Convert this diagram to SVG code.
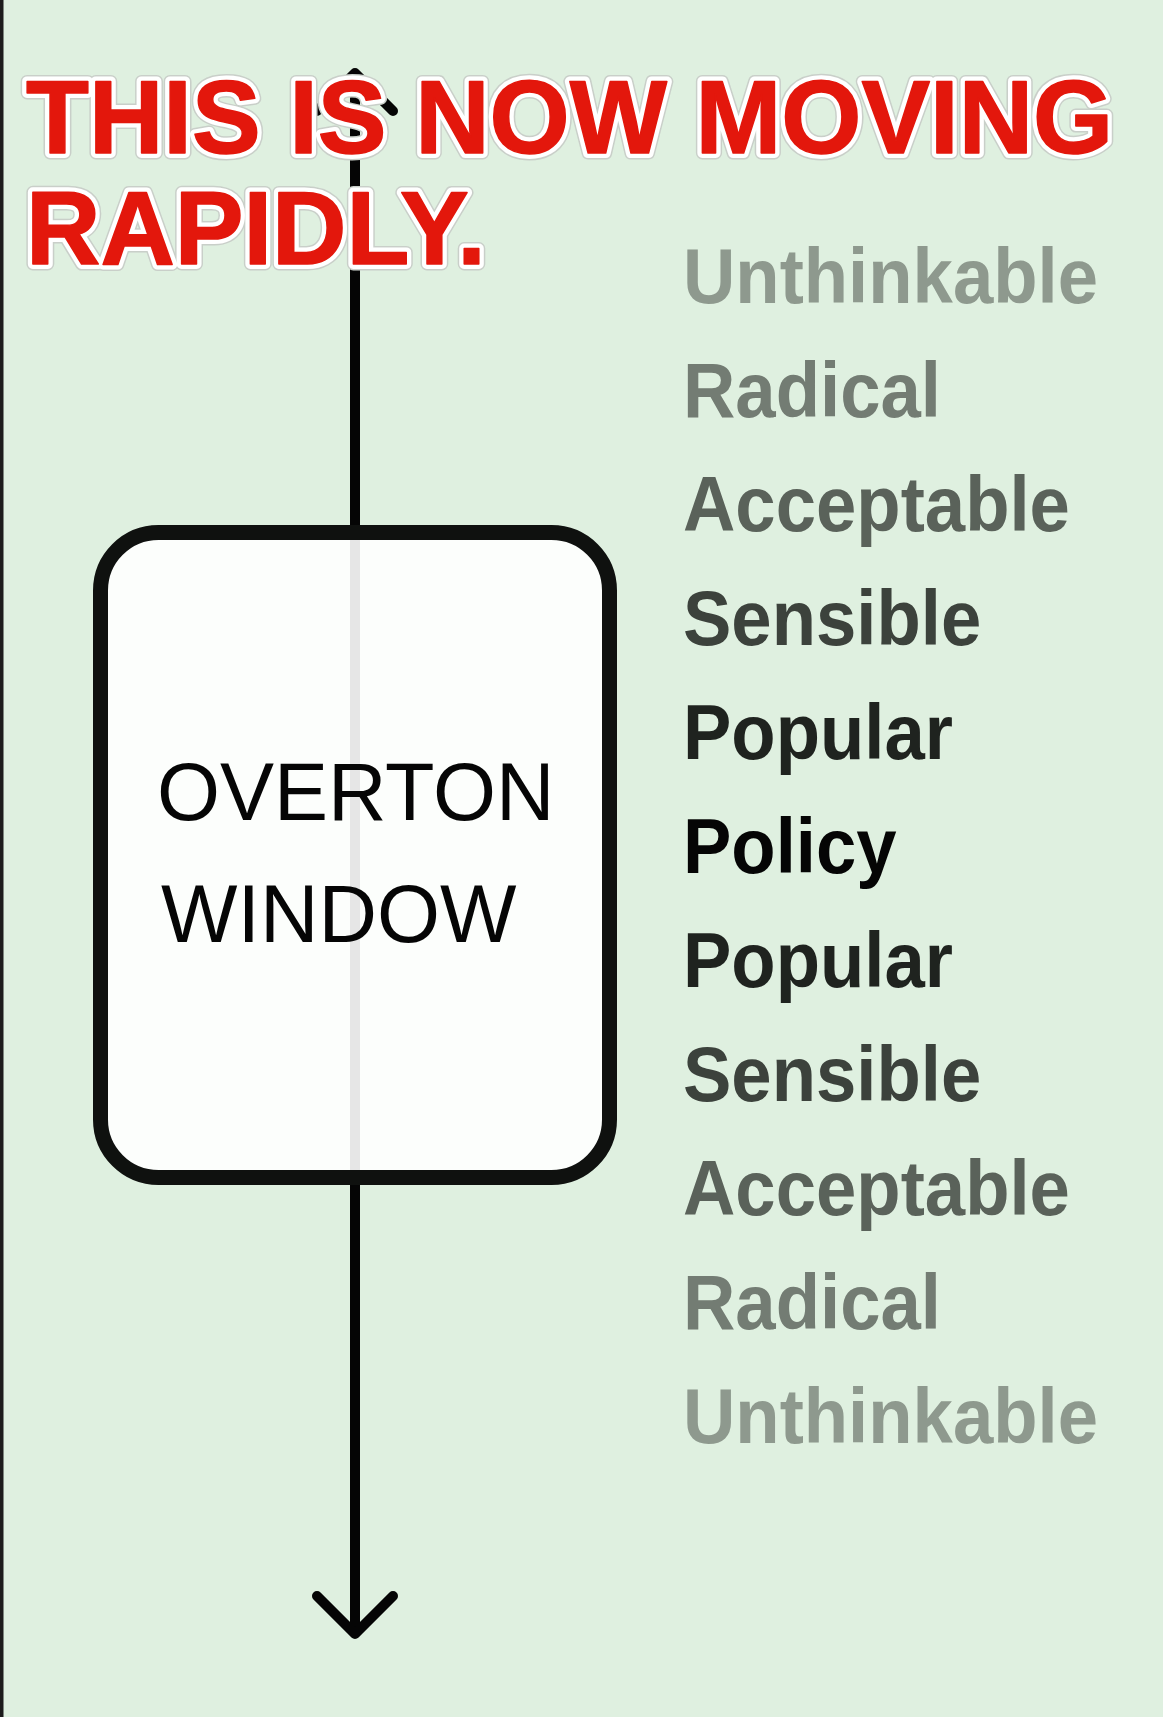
<svg xmlns="http://www.w3.org/2000/svg" width="1163" height="1717" viewBox="0 0 1163 1717">
<defs>
<style>
.lbl{font-family:"Liberation Sans",Arial,sans-serif;font-weight:bold;font-size:78px}
.u{fill:#8e998e}.r{fill:#737c73}.a{fill:#5a625a}.s{fill:#3c423c}.p{fill:#1f231f}.k{fill:#050505}
.box{fill:#ffffff;fill-opacity:0.9;stroke:#0f110f;stroke-width:15}
.boxtxt{font-family:"Liberation Sans",Arial,sans-serif;font-size:81px;fill:#050505}
.t{font-family:"Liberation Sans",Arial,sans-serif;font-weight:bold;font-size:103px;stroke-linejoin:round}
.edge{fill:none;stroke:#c9cfc9;stroke-width:13}
.halo{fill:#ffffff;stroke:#ffffff;stroke-width:10}
.red{fill:#e3170c;stroke:#e3170c;stroke-width:1.5}
.conn{stroke:#050505;stroke-width:10;fill:none}
</style>
<marker id="chev" markerUnits="userSpaceOnUse" viewBox="-50 -50 60 100" refX="0" refY="0" markerWidth="60" markerHeight="100" orient="auto-start-reverse" overflow="visible">
<path d="M -38 -38 L 0 0 L -38 38" fill="none" stroke="#050505" stroke-width="10" stroke-linecap="round" stroke-linejoin="round"/>
</marker>
</defs>
<rect x="0" y="0" width="1163" height="1717" fill="#dff0e0"/>
<rect x="0" y="0" width="3.5" height="1717" fill="#1c1c1c"/>
<g id="connectors">
<line class="conn" x1="355" y1="73" x2="355" y2="1634" marker-start="url(#chev)" marker-end="url(#chev)"/>
</g>
<g id="overton-window">
<rect class="box" x="100.5" y="532.5" width="509" height="645" rx="58" ry="58"/>
<text class="boxtxt" x="157" y="820">OVERTON</text>
<text class="boxtxt" x="161" y="942">WINDOW</text>
</g>
<g id="labels" transform="translate(683,0) scale(0.93,1)">
<g id="label-unthinkable-top"><text class="lbl u" x="0" y="303">Unthinkable</text></g>
<g id="label-radical-top"><text class="lbl r" x="0" y="417">Radical</text></g>
<g id="label-acceptable-top"><text class="lbl a" x="0" y="531">Acceptable</text></g>
<g id="label-sensible-top"><text class="lbl s" x="0" y="645">Sensible</text></g>
<g id="label-popular-top"><text class="lbl p" x="0" y="759">Popular</text></g>
<g id="label-policy"><text class="lbl k" x="0" y="873">Policy</text></g>
<g id="label-popular-bottom"><text class="lbl p" x="0" y="987">Popular</text></g>
<g id="label-sensible-bottom"><text class="lbl s" x="0" y="1101">Sensible</text></g>
<g id="label-acceptable-bottom"><text class="lbl a" x="0" y="1215">Acceptable</text></g>
<g id="label-radical-bottom"><text class="lbl r" x="0" y="1329">Radical</text></g>
<g id="label-unthinkable-bottom"><text class="lbl u" x="0" y="1443">Unthinkable</text></g>
</g>
<g id="title">
<text class="t edge" x="26" y="153">THIS IS NOW MOVING</text>
<text class="t edge" x="26" y="264">RAPIDLY.</text>
<text class="t halo" x="26" y="153">THIS IS NOW MOVING</text>
<text class="t halo" x="26" y="264">RAPIDLY.</text>
<text class="t red" x="26" y="153">THIS IS NOW MOVING</text>
<text class="t red" x="26" y="264">RAPIDLY.</text>
</g>
</svg>
